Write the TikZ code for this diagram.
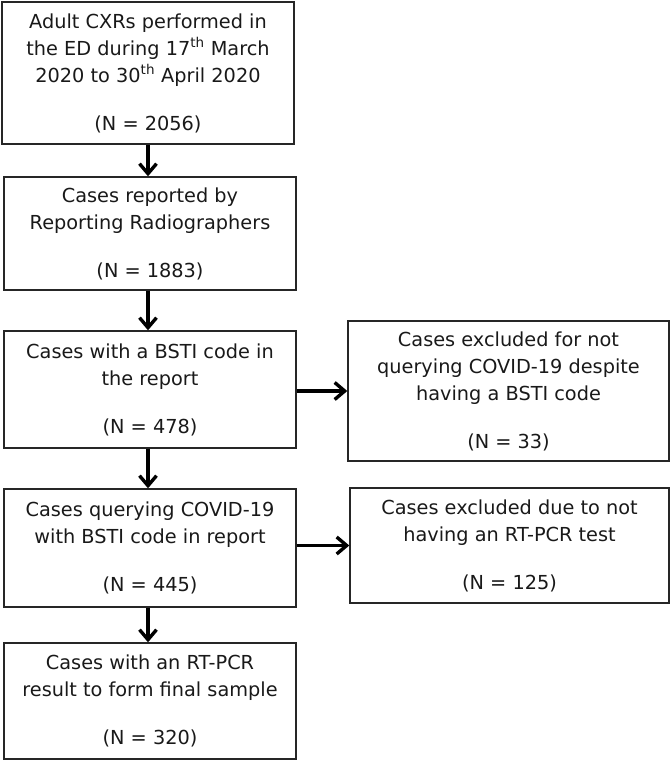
\documentclass[tikz,border=0pt]{standalone}
\usepackage{fontspec}
\setmainfont{DejaVu Sans}
\usetikzlibrary{arrows.meta}

\tikzset{
  flowbox/.style={draw=black!85, line width=1.4pt, rectangle, align=center,
    text=black!90, inner sep=0pt, font=\fontsize{19.3}{27}\selectfont},
  flowarrow/.style={line width=3.4pt, -{Straight Barb[length=10pt,width=17pt,line width=3.4pt]}}
}

\begin{document}
\begin{tikzpicture}[x=1pt,y=-1pt]

    \useasboundingbox (0,0) rectangle (671,761);

    % main column
    \node[flowbox, line width=2.6pt, minimum width=292pt, minimum height=142pt] (start) at (148,73)
      {Adult CXRs performed in\\the ED during 17\textsuperscript{th} March\\2020 to 30\textsuperscript{th} April 2020\\[21pt](N = 2056)};
    \node[flowbox, minimum width=292pt, minimum height=113pt] (reported) at (150,233.5)
      {Cases reported by\\Reporting Radiographers\\[21pt](N = 1883)};
    \node[flowbox, minimum width=292pt, minimum height=117pt] (bsti) at (150,389.5)
      {Cases with a BSTI code in\\the report\\[21pt](N = 478)};
    \node[flowbox, minimum width=292pt, minimum height=118pt] (querying) at (150,548)
      {Cases querying COVID-19\\with BSTI code in report\\[21pt](N = 445)};
    \node[flowbox, minimum width=292pt, minimum height=116pt] (final) at (150,701)
      {Cases with an RT-PCR\\result to form final sample\\[21pt](N = 320)};

    % exclusions
    \node[flowbox, minimum width=321pt, minimum height=140pt] (exclbsti) at (508.5,391)
      {Cases excluded for not\\querying COVID-19 despite\\having a BSTI code\\[21pt](N = 33)};
    \node[flowbox, minimum width=319pt, minimum height=115pt] (exclpcr) at (509.5,545.5)
      {Cases excluded due to not\\having an RT-PCR test\\[21pt](N = 125)};

    % arrows down
    \draw[flowarrow] (start.south) -- (start.south |- reported.north);
    \draw[flowarrow] (start.south |- reported.south) -- (start.south |- bsti.north);
    \draw[flowarrow] (start.south |- bsti.south) -- (start.south |- querying.north);
    \draw[flowarrow] (start.south |- querying.south) -- (start.south |- final.north);

    % arrows right
    \draw[flowarrow] (exclbsti.west -| bsti.east) -- (exclbsti.west);
    \draw[flowarrow] (exclpcr.west -| querying.east) -- (exclpcr.west);

\end{tikzpicture}
\end{document}
